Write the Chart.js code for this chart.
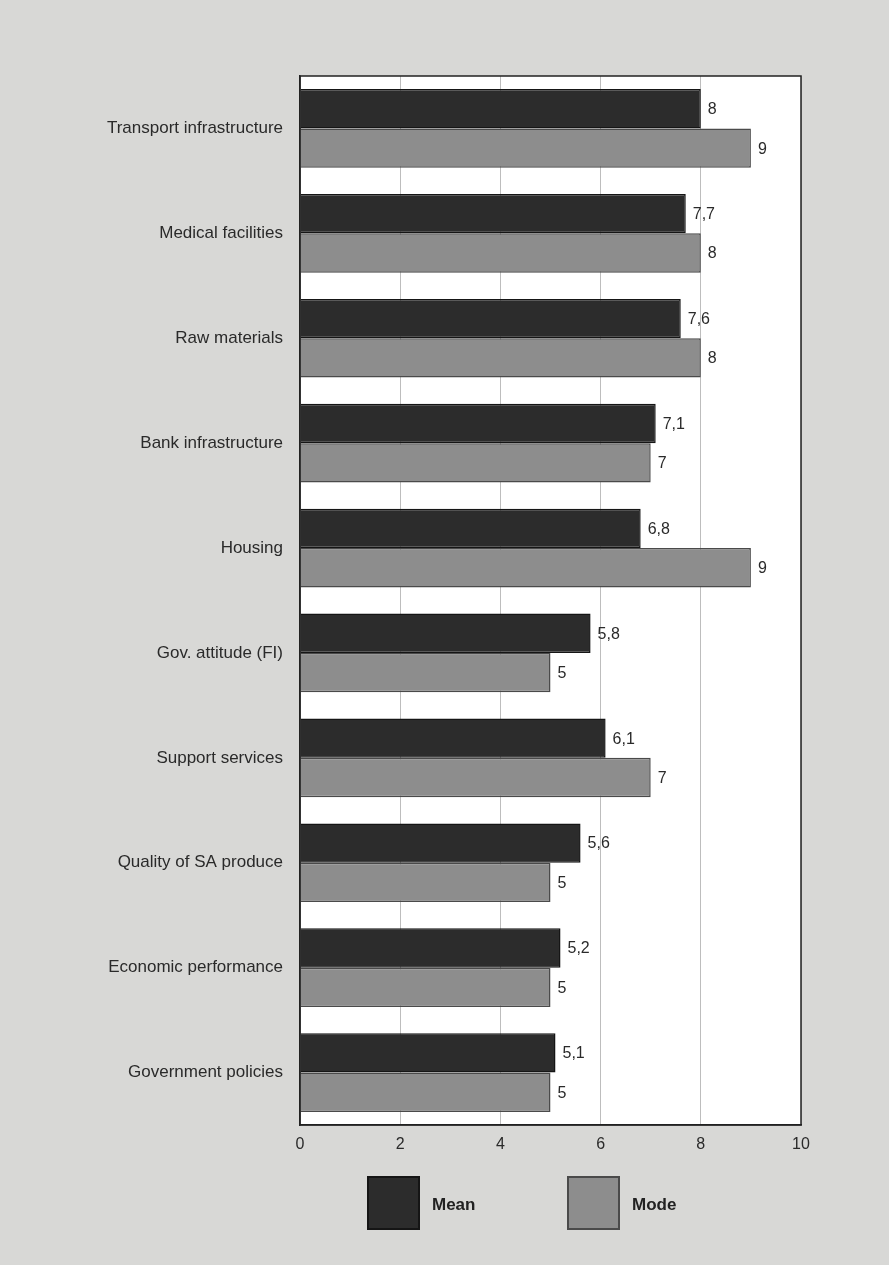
<!DOCTYPE html>
<html>
<head>
<meta charset="utf-8">
<script src="https://cdn.jsdelivr.net/npm/chart.js@4/dist/chart.umd.min.js"></script>
<style>
  body { margin: 0; background: #d8d8d6; }
  canvas { display: block; }
</style>
</head>
<body>
<canvas id="myChart-bar" width="889" height="1265"></canvas>
<script>
  const categories = ['Transport infrastructure', 'Medical facilities', 'Raw materials', 'Bank infrastructure',
    'Housing', 'Gov. attitude (FI)', 'Support services', 'Quality of SA produce',
    'Economic performance', 'Government policies'];
  const meanValues = [8, 7.7, 7.6, 7.1, 6.8, 5.8, 6.1, 5.6, 5.2, 5.1];
  const modeValues = [9, 8, 8, 7, 9, 5, 7, 5, 5, 5];
  const xTicks = [0, 2, 4, 6, 8, 10];
  const seriesNames = ['Mean', 'Mode'];

  const fontFamily = '"Liberation Sans", Arial, sans-serif';

  // white plot area, page colour around it, and the box frame
  const plotFrame = {
    id: 'plotFrame',
    beforeDraw(chart) {
      const c = chart.ctx, a = chart.chartArea;
      c.save();
      c.fillStyle = '#d8d8d6';
      c.fillRect(0, 0, chart.width, chart.height);
      c.fillStyle = '#ffffff';
      c.fillRect(a.left, a.top, a.right - a.left, a.bottom - a.top);
      c.restore();
    },
    afterDraw(chart) {
      const c = chart.ctx, a = chart.chartArea;
      c.save();
      c.strokeStyle = '#222';
      c.lineWidth = 1.5;
      c.strokeRect(a.left, a.top, a.right - a.left, a.bottom - a.top);
      c.restore();
    }
  };

  // numbers at the end of every bar
  const barValues = {
    id: 'barValues',
    afterDatasetsDraw(chart) {
      const c = chart.ctx;
      c.save();
      c.font = '16px ' + fontFamily;
      c.fillStyle = '#2a2a2a';
      c.textAlign = 'left';
      c.textBaseline = 'middle';
      chart.data.datasets.forEach((ds, i) => {
        chart.getDatasetMeta(i).data.forEach((bar, j) => {
          const txt = String(ds.data[j]).replace('.', ',');
          c.fillText(txt, bar.x + 7, bar.y + 1);
        });
      });
      c.restore();
    }
  };

  // legend under the axis, large square keys
  const keyLegend = {
    id: 'keyLegend',
    afterDraw(chart) {
      const c = chart.ctx;
      const spots = [368, 568];
      c.save();
      c.font = 'bold 17px ' + fontFamily;
      c.textBaseline = 'middle';
      chart.data.datasets.forEach((ds, i) => {
        const x = spots[i], y = 1177;
        c.fillStyle = ds.backgroundColor;
        c.fillRect(x, y, 51, 52);
        c.strokeStyle = ds.borderColor;
        c.lineWidth = 2;
        c.strokeRect(x, y, 51, 52);
        c.fillStyle = '#222';
        c.fillText(ds.label, x + 64, y + 28);
      });
      c.restore();
    }
  };

  new Chart(document.getElementById('myChart-bar'), {
    type: 'bar',
    data: {
      labels: categories,
      datasets: [{
        label: seriesNames[0],
        data: meanValues,
        backgroundColor: '#2c2c2c',
        borderColor: '#151515',
        borderWidth: 1.5,
        categoryPercentage: 0.75,
        barPercentage: 1.0
      }, {
        label: seriesNames[1],
        data: modeValues,
        backgroundColor: '#8d8d8d',
        borderColor: '#4a4a4a',
        borderWidth: 1.5,
        categoryPercentage: 0.75,
        barPercentage: 1.0
      }]
    },
    options: {
      indexAxis: 'y',
      responsive: false,
      animation: false,
      layout: {
        padding: { left: 0, right: 88, top: 76, bottom: 0 }
      },
      scales: {
        x: {
          min: 0,
          max: 10,
          afterBuildTicks(scale) {
            scale.ticks = xTicks.map(v => ({ value: v }));
          },
          afterFit(scale) { scale.height = 140; },
          grid: { color: '#bdbdbd', lineWidth: 1, drawTicks: false },
          border: { display: true, color: '#222', width: 1.5 },
          ticks: {
            padding: 10,
            color: '#2a2a2a',
            font: { size: 16, family: fontFamily }
          }
        },
        y: {
          afterFit(scale) { scale.width = 300; },
          grid: { display: false, drawTicks: false },
          border: { display: true, color: '#222', width: 1.5 },
          ticks: {
            padding: 17,
            color: '#2a2a2a',
            font: { size: 17, family: fontFamily }
          }
        }
      },
      plugins: {
        legend: { display: false },
        tooltip: { enabled: false },
        title: { display: false }
      }
    },
    plugins: [plotFrame, barValues, keyLegend]
  });
</script>
</body>
</html>
